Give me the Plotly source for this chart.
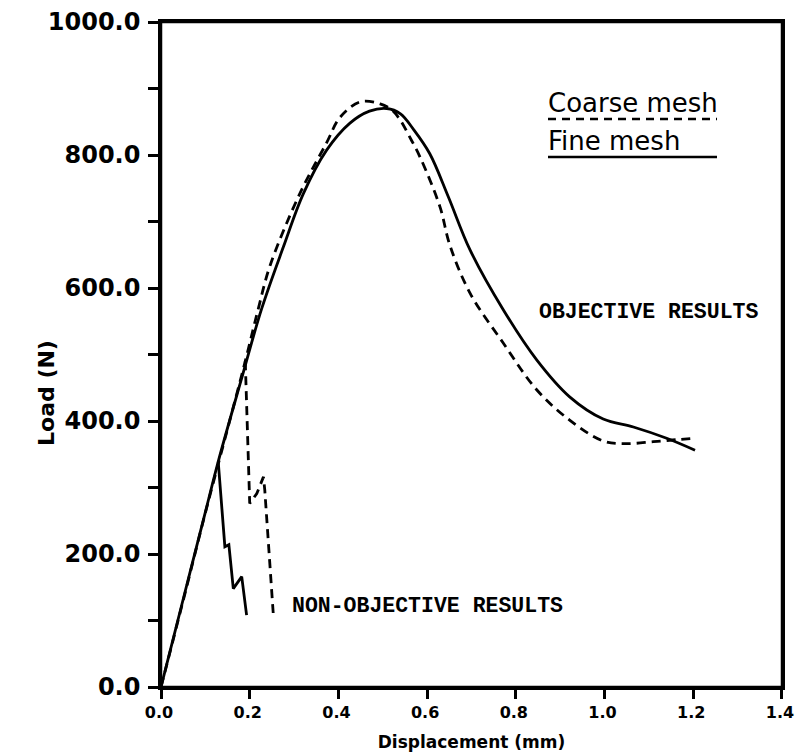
import plotly.graph_objects as go

# Fine mesh (solid) - objective branch
fine_x = [0.0, 0.05, 0.10, 0.129, 0.18, 0.227, 0.276, 0.321, 0.373, 0.426, 0.47, 0.509, 0.54, 0.57,
          0.606, 0.648, 0.697, 0.772, 0.847, 0.922, 0.997, 1.065, 1.14, 1.204]
fine_y = [0, 132, 263, 339, 460, 569, 662, 742, 807, 848, 866, 870, 862, 838,
          802, 737, 657, 567, 492, 436, 403, 391, 374, 356]
# Fine mesh - non-objective branch
fine_no_x = [0.129, 0.144, 0.153, 0.163, 0.182, 0.193]
fine_no_y = [339, 211, 214, 148, 166, 108]

# Coarse mesh (dashed) - objective branch
coarse_x = [0.0, 0.05, 0.10, 0.15, 0.19, 0.219, 0.246, 0.313, 0.373, 0.404, 0.449, 0.494, 0.52, 0.539,
            0.56, 0.584, 0.629, 0.651, 0.697, 0.772, 0.847, 0.922, 0.997, 1.05, 1.11, 1.163, 1.20]
coarse_y = [0, 130, 262, 388, 490, 568, 634, 742, 818, 857, 880, 877, 868, 853,
            828, 797, 722, 665, 592, 517, 447, 401, 370, 366, 369, 372, 374]
# Coarse mesh - non-objective branch
coarse_no_x = [0.19, 0.20, 0.216, 0.231, 0.234, 0.253]
coarse_no_y = [490, 276, 291, 316, 296, 111]

x_ticks = [0.0, 0.2, 0.4, 0.6, 0.8, 1.0, 1.2, 1.4]
x_labels = ["0.0", "0.2", "0.4", "0.6", "0.8", "1.0", "1.2", "1.4"]
y_ticks = [0, 200, 400, 600, 800, 1000]
y_labels = ["0.0", "200.0", "400.0", "600.0", "800.0", "1000.0"]

fig = go.Figure()
solid = dict(color="black", width=2.8)
dashed = dict(color="black", width=2.8, dash="9px,6px")
fig.add_trace(go.Scatter(x=fine_x, y=fine_y, mode="lines", line=dict(**solid, shape="spline", smoothing=1.0)))
fig.add_trace(go.Scatter(x=fine_no_x, y=fine_no_y, mode="lines", line=solid))
fig.add_trace(go.Scatter(x=coarse_x, y=coarse_y, mode="lines", line=dict(**dashed, shape="spline", smoothing=1.0)))
fig.add_trace(go.Scatter(x=coarse_no_x, y=coarse_no_y, mode="lines", line=dashed))

W, H = 795, 755
L, R, T, B = 161, 13, 22, 68
pw, ph = W - L - R, H - T - B

def px(x):
    return (x - L) / pw

def py(y):
    return (H - B - y) / ph

# plot frame
fig.add_shape(type="rect", xref="paper", yref="paper", x0=0, x1=1, y0=0, y1=1,
              line=dict(color="black", width=2.5), layer="above")

fig.add_annotation(x=px(546), y=py(103), xref="paper", yref="paper", text="Coarse mesh",
                   showarrow=False, xanchor="left", yanchor="middle",
                   font=dict(family="DejaVu Sans", size=26, color="black"))
fig.add_annotation(x=px(546), y=py(141), xref="paper", yref="paper", text="Fine mesh",
                   showarrow=False, xanchor="left", yanchor="middle",
                   font=dict(family="DejaVu Sans", size=26, color="black"))
fig.add_shape(type="line", xref="paper", yref="paper", x0=px(548), x1=px(717), y0=py(119), y1=py(119),
              line=dict(color="black", width=2.5, dash="8px,6px"))
fig.add_shape(type="line", xref="paper", yref="paper", x0=px(548), x1=px(717), y0=py(157), y1=py(157),
              line=dict(color="black", width=2.5))

fig.add_annotation(x=px(537), y=py(312), xref="paper", yref="paper", text="<b>OBJECTIVE RESULTS</b>",
                   showarrow=False, xanchor="left", yanchor="middle",
                   font=dict(family="Liberation Mono", size=21.5, color="black"))
fig.add_annotation(x=px(290), y=py(606), xref="paper", yref="paper", text="<b>NON-OBJECTIVE RESULTS</b>",
                   showarrow=False, xanchor="left", yanchor="middle",
                   font=dict(family="Liberation Mono", size=21.5, color="black"))

fig.add_annotation(x=px(46), y=py(393), xref="paper", yref="paper", text="<b>Load (N)</b>",
                   textangle=-90, showarrow=False, xanchor="center", yanchor="middle",
                   font=dict(family="DejaVu Sans", size=22, color="black"))

fig.update_layout(
    width=W, height=H,
    margin=dict(l=L, r=R, t=T, b=B),
    paper_bgcolor="white", plot_bgcolor="white",
    showlegend=False,
    xaxis=dict(range=[0, 1.4001], tickvals=x_ticks, ticktext=x_labels, showgrid=False, zeroline=False,
               automargin=False, ticklabeloverflow="allow", ticklabelshift=-2,
               showline=True, linecolor="black", linewidth=2.5, mirror=True,
               ticks="outside", ticklen=9, tickwidth=2.5, tickcolor="black",
               tickfont=dict(family="DejaVu Sans", size=16, color="black", weight="bold"),
               title=dict(text="Displacement (mm)", standoff=16,
                          font=dict(family="DejaVu Sans", size=17, color="black", weight="bold"))),
    yaxis=dict(range=[0, 1000.1], tickvals=y_ticks, ticktext=y_labels, showgrid=False, zeroline=False,
               automargin=False, ticklabeloverflow="allow", ticklabelstandoff=3,
               showline=True, linecolor="black", linewidth=2.5, mirror=True,
               ticks="outside", ticklen=10, tickwidth=2.5, tickcolor="black",
               minor=dict(dtick=100, ticks="outside", ticklen=10, tickwidth=2.5, tickcolor="black", showgrid=False),
               tickfont=dict(family="DejaVu Sans", size=24, color="black", weight="bold")),
)

fig.write_html("out.html", config={"displayModeBar": False},
               post_script="document.body.style.margin='0';document.body.style.overflow='hidden';")
